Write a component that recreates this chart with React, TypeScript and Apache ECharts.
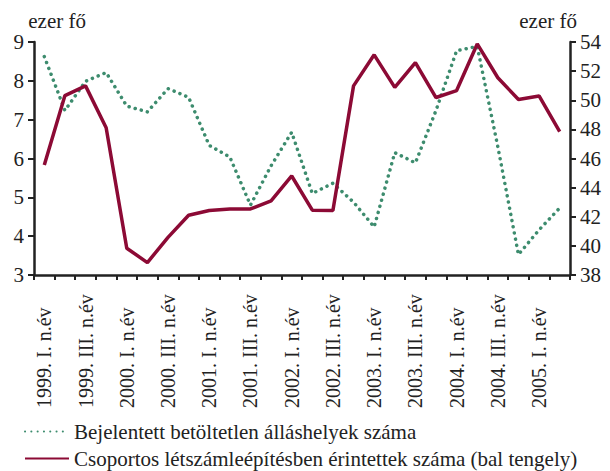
import React, { useEffect, useRef } from "react";
import * as echarts from "echarts";

const categories: string[] = [
  "1999. I. n.év", "1999. II. n.év", "1999. III. n.év", "1999. IV. n.év",
  "2000. I. n.év", "2000. II. n.év", "2000. III. n.év", "2000. IV. n.év",
  "2001. I. n.év", "2001. II. n.év", "2001. III. n.év", "2001. IV. n.év",
  "2002. I. n.év", "2002. II. n.év", "2002. III. n.év", "2002. IV. n.év",
  "2003. I. n.év", "2003. II. n.év", "2003. III. n.év", "2003. IV. n.év",
  "2004. I. n.év", "2004. II. n.év", "2004. III. n.év", "2004. IV. n.év",
  "2005. I. n.év", "2005. II. n.év",
];

// Csoportos létszámleépítésben érintettek száma (bal tengely), ezer fő
const layoffs: number[] = [
  5.83, 7.62, 7.87, 6.79, 3.69, 3.32, 3.97, 4.54, 4.66, 4.7, 4.7, 4.91, 5.55,
  4.67, 4.66, 7.87, 8.67, 7.83, 8.47, 7.57, 7.75, 8.95, 8.08, 7.52, 7.61, 6.69,
];

// Bejelentett betöltetlen álláshelyek száma (jobb tengely), ezer fő
const vacancies: number[] = [
  53.0, 49.3, 51.3, 51.9, 49.6, 49.2, 50.8, 50.2, 46.9, 46.1, 42.8, 45.5, 47.8,
  43.6, 44.3, 43.0, 41.3, 46.4, 45.7, 49.3, 53.4, 53.7, 46.8, 39.4, 41.1, 42.6,
];

const seriesNames: string[] = [
  "Bejelentett betöltetlen álláshelyek száma",
  "Csoportos létszámleépítésben érintettek száma (bal tengely)",
];
const unitLabel = "ezer fő";

const leftTicks = { min: 3, max: 9, interval: 1 };
const rightTicks = { min: 38, max: 54, interval: 2 };

const FONT = "Liberation Serif";
const RED = "#8c0a35";
const GREEN = "#3d8c6e";
const INK = "#222";

export default function App() {
  const ref = useRef<HTMLDivElement>(null);
  useEffect(() => {
    if (!ref.current) return;
    const chart = echarts.init(ref.current, null, { renderer: "svg" });
    const axisLine = { show: true, lineStyle: { color: INK, width: 2.5 } };
    const axisTick = { show: true, length: 6, lineStyle: { color: INK, width: 2 } };
    const legendBase = {
      orient: "horizontal",
      left: 19,
      itemWidth: 44,
      itemHeight: 12,
      itemStyle: { opacity: 0 },
      textStyle: { fontFamily: FONT, fontSize: 21, color: INK },
    };
    chart.setOption({
      animation: false,
      backgroundColor: "#ffffff",
      textStyle: { fontFamily: FONT },
      grid: { left: 34, right: 40, top: 42, bottom: 196, containLabel: false },
      legend: [
        { ...legendBase, top: 416, data: [seriesNames[0]] },
        { ...legendBase, top: 443, data: [seriesNames[1]] },
      ],
      graphic: [
        {
          type: "text",
          x: 86,
          y: 10,
          style: { text: unitLabel, fontFamily: FONT, fontSize: 21, fill: INK, align: "right", verticalAlign: "top" },
        },
        {
          type: "text",
          x: 577,
          y: 10,
          style: { text: unitLabel, fontFamily: FONT, fontSize: 21, fill: INK, align: "right", verticalAlign: "top" },
        },
      ],
      xAxis: {
        type: "category",
        data: categories,
        boundaryGap: true,
        axisLine,
        axisTick: { ...axisTick, length: 5, interval: 0 },
        axisLabel: {
          interval: 1,
          rotate: 90,
          align: "left",
          margin: 133,
          fontFamily: FONT,
          fontSize: 20,
          color: INK,
        },
        splitLine: { show: false },
      },
      yAxis: [
        {
          type: "value",
          position: "left",
          ...leftTicks,
          axisLine,
          axisTick,
          axisLabel: { fontFamily: FONT, fontSize: 21, color: INK, margin: 10 },
          splitLine: { show: false },
        },
        {
          type: "value",
          position: "right",
          ...rightTicks,
          axisLine,
          axisTick,
          axisLabel: { fontFamily: FONT, fontSize: 21, color: INK, margin: 10 },
          splitLine: { show: false },
        },
      ],
      series: [
        {
          name: seriesNames[0],
          type: "line",
          yAxisIndex: 1,
          data: vacancies,
          symbol: "none",
          color: GREEN,
          lineStyle: { color: GREEN, width: 3.5, type: [0.1, 6.2], cap: "round" },
        },
        {
          name: seriesNames[1],
          type: "line",
          yAxisIndex: 0,
          data: layoffs,
          symbol: "none",
          color: RED,
          lineStyle: { color: RED, width: 3.5 },
          z: 3,
        },
      ],
    });
    return () => chart.dispose();
  }, []);
  return <div ref={ref} style={{ width: 610, height: 471, position: "absolute", left: 0, top: 0 }} />;
}
